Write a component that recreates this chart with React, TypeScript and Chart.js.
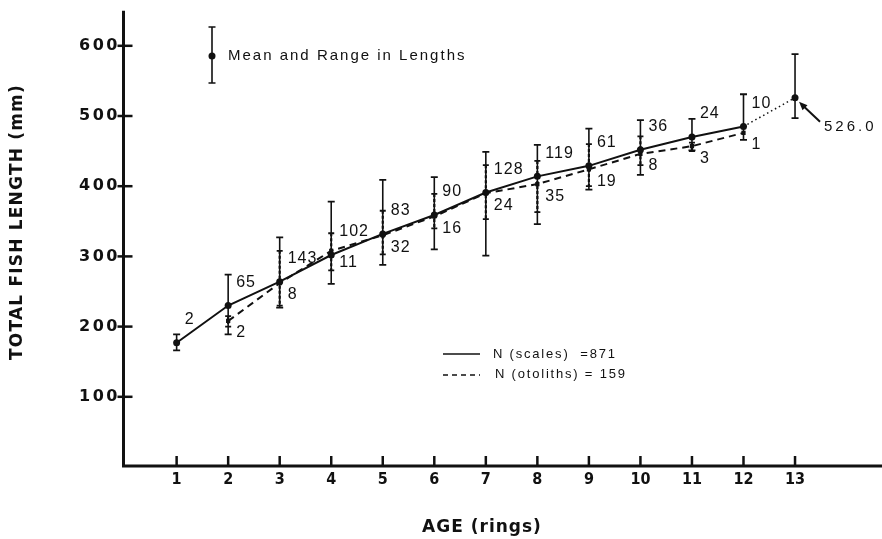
import React, { useEffect, useRef } from "react";
import { Chart, registerables } from "chart.js";

Chart.register(...registerables);

// ---- data ----
const scalesAges = [1, 2, 3, 4, 5, 6, 7, 8, 9, 10, 11, 12];
const scalesMean = [177, 230, 264, 302, 332, 359, 391, 414, 429, 452, 470, 485];
const scalesMin = [166, 189, 227, 261, 288, 310, 301, 346, 395, 416, 451, 466];
const scalesMax = [189, 274, 327, 378, 409, 413, 449, 459, 482, 494, 496, 531];
const scalesN = [2, 65, 143, 102, 83, 90, 128, 119, 61, 36, 24, 10];

const otoAges = [2, 3, 4, 5, 6, 7, 8, 9, 10, 11, 12];
const otoMean = [208, 262, 308, 330, 357, 390, 403, 424, 446, 457, 476];
const otoMin = [200, 230, 280, 303, 340, 353, 363, 400, 430, 450, 476];
const otoMax = [215, 308, 333, 365, 389, 430, 436, 460, 471, 462, 476];
const otoN = [2, 8, 11, 32, 16, 24, 35, 19, 8, 3, 1];

const extraAge = 13;
const extraMean = 526.0;
const extraMin = 497;
const extraMax = 588;
const extraLabel = "526.0";

const xTicks = [1, 2, 3, 4, 5, 6, 7, 8, 9, 10, 11, 12, 13];
const yTicks = [100, 200, 300, 400, 500, 600];

const xTitle = "AGE (rings)";
const yTitle = "TOTAL FISH LENGTH (mm)";
const keyText = "Mean and Range in Lengths";
const scalesLegend = "N (scales)  =871";
const otoLegend = "N (otoliths) = 159";

const INK = "#111111";
const AXIS_FONT = 'bold 16px "DejaVu Sans", sans-serif';
const XTICK_FONT = 'bold 16px "DejaVu Sans Condensed", "DejaVu Sans", sans-serif';
const TEXT_FONT = '"Liberation Sans", Arial, sans-serif';

function setSpacing(ctx: any, s: number) {
  try {
    ctx.letterSpacing = s + "px";
  } catch (e) {}
}

function drawBar(ctx: CanvasRenderingContext2D, x: number, yTop: number, yBot: number, cap: number, dashed: boolean, lw: number) {
  ctx.save();
  ctx.strokeStyle = INK;
  ctx.lineWidth = lw;
  if (dashed) ctx.setLineDash([3, 2]);
  ctx.beginPath();
  ctx.moveTo(x, yTop);
  ctx.lineTo(x, yBot);
  ctx.stroke();
  ctx.setLineDash([]);
  ctx.lineWidth = 1.8;
  ctx.beginPath();
  ctx.moveTo(x - cap, yTop);
  ctx.lineTo(x + cap, yTop);
  ctx.moveTo(x - cap, yBot);
  ctx.lineTo(x + cap, yBot);
  ctx.stroke();
  ctx.restore();
}

const fishPlugin = {
  id: "fishPlugin",
  beforeDatasetsDraw(chart: any) {
    const ctx: CanvasRenderingContext2D = chart.ctx;
    const xs = chart.scales.x;
    const ys = chart.scales.y;
    scalesAges.forEach((a, i) => {
      drawBar(ctx, xs.getPixelForValue(a), ys.getPixelForValue(scalesMax[i]), ys.getPixelForValue(scalesMin[i]), 3.5, false, 1.6);
    });
    otoAges.forEach((a, i) => {
      if (otoMax[i] === otoMin[i]) return;
      drawBar(ctx, xs.getPixelForValue(a), ys.getPixelForValue(otoMax[i]), ys.getPixelForValue(otoMin[i]), 3, true, 2.2);
    });
    drawBar(ctx, xs.getPixelForValue(extraAge), ys.getPixelForValue(extraMax), ys.getPixelForValue(extraMin), 3.5, false, 1.6);
  },
  afterDraw(chart: any) {
    const ctx: CanvasRenderingContext2D = chart.ctx;
    const xs = chart.scales.x;
    const ys = chart.scales.y;
    const area = chart.chartArea;
    const axisX = area.left + 1.5;
    const axisY = area.bottom - 1;

    ctx.save();
    ctx.strokeStyle = INK;
    ctx.fillStyle = INK;

    // axes
    ctx.lineWidth = 3;
    ctx.beginPath();
    ctx.moveTo(axisX, area.top);
    ctx.lineTo(axisX, axisY);
    ctx.lineTo(chart.width, axisY);
    ctx.stroke();

    // y ticks
    ctx.lineWidth = 2.5;
    ctx.font = AXIS_FONT;
    ctx.textAlign = "right";
    ctx.textBaseline = "middle";
    setSpacing(ctx, 2.5);
    yTicks.forEach((v) => {
      const y = ys.getPixelForValue(v);
      ctx.beginPath();
      ctx.moveTo(axisX - 6, y);
      ctx.lineTo(axisX + 9, y);
      ctx.stroke();
      ctx.fillText(String(v), axisX - 6 + 2.5, y);
    });

    // x ticks
    ctx.font = XTICK_FONT;
    ctx.textAlign = "center";
    setSpacing(ctx, 0);
    xTicks.forEach((v) => {
      const x = xs.getPixelForValue(v);
      ctx.beginPath();
      ctx.moveTo(x, axisY);
      ctx.lineTo(x, axisY - 10);
      ctx.stroke();
      ctx.fillText(String(v), x, 480);
    });

    // x title
    ctx.font = 'bold 17px "DejaVu Sans", sans-serif';
    setSpacing(ctx, 1);
    ctx.fillText(xTitle, 482, 528);

    // y title
    ctx.save();
    ctx.translate(18, 222);
    ctx.rotate(-Math.PI / 2);
    ctx.font = 'bold 17px "DejaVu Sans", sans-serif';
    setSpacing(ctx, 1.2);
    ctx.fillText(yTitle, 0, 0);
    ctx.restore();

    // count labels
    ctx.font = "16px " + TEXT_FONT;
    ctx.textAlign = "left";
    ctx.textBaseline = "middle";
    setSpacing(ctx, 1);
    scalesAges.forEach((a, i) => {
      ctx.fillText(String(scalesN[i]), xs.getPixelForValue(a) + 8, ys.getPixelForValue(scalesMean[i]) - 23);
    });
    otoAges.forEach((a, i) => {
      ctx.fillText(String(otoN[i]), xs.getPixelForValue(a) + 8, ys.getPixelForValue(otoMean[i]) + 12);
    });

    // 526.0 annotation with arrow
    const px = xs.getPixelForValue(extraAge);
    const py = ys.getPixelForValue(extraMean);
    ctx.lineWidth = 2;
    ctx.beginPath();
    ctx.moveTo(px + 25, py + 24);
    ctx.lineTo(px + 7, py + 7);
    ctx.stroke();
    ctx.beginPath();
    ctx.moveTo(px + 4, py + 4);
    ctx.lineTo(px + 12.5, py + 7.5);
    ctx.lineTo(px + 7.5, py + 12.5);
    ctx.closePath();
    ctx.fill();
    ctx.font = "15px " + TEXT_FONT;
    setSpacing(ctx, 3);
    ctx.fillText(extraLabel, px + 29, py + 29);

    // key: mean and range symbol
    const kx = 212;
    ctx.lineWidth = 1.6;
    ctx.beginPath();
    ctx.moveTo(kx, 27);
    ctx.lineTo(kx, 83);
    ctx.moveTo(kx - 3.5, 27);
    ctx.lineTo(kx + 3.5, 27);
    ctx.moveTo(kx - 3.5, 83);
    ctx.lineTo(kx + 3.5, 83);
    ctx.stroke();
    ctx.beginPath();
    ctx.arc(kx, 56, 3.5, 0, Math.PI * 2);
    ctx.fill();
    ctx.font = "15px " + TEXT_FONT;
    setSpacing(ctx, 2);
    ctx.fillText(keyText, 228, 56);

    // legend lines
    ctx.lineWidth = 1.5;
    ctx.beginPath();
    ctx.moveTo(443, 354);
    ctx.lineTo(480, 354);
    ctx.stroke();
    ctx.setLineDash([5, 4]);
    ctx.beginPath();
    ctx.moveTo(443, 375);
    ctx.lineTo(480, 375);
    ctx.stroke();
    ctx.setLineDash([]);
    ctx.font = "13px " + TEXT_FONT;
    setSpacing(ctx, 1.8);
    ctx.fillText(scalesLegend, 493, 354);
    ctx.fillText(otoLegend, 495, 374);
    setSpacing(ctx, 0);
    ctx.restore();
  },
};

export default function App() {
  const ref = useRef<HTMLCanvasElement | null>(null);
  useEffect(() => {
    if (!ref.current) return;
    const chart = new Chart(ref.current, {
      type: "line",
      data: {
        datasets: [
          {
            label: "scales",
            data: scalesAges.map((a, i) => ({ x: a, y: scalesMean[i] })),
            borderColor: INK,
            borderWidth: 2,
            pointRadius: 3.5,
            pointBackgroundColor: INK,
            pointBorderWidth: 0,
            tension: 0,
          },
          {
            label: "extension",
            data: [
              { x: scalesAges[scalesAges.length - 1], y: scalesMean[scalesMean.length - 1] },
              { x: extraAge, y: extraMean },
            ],
            borderColor: INK,
            borderWidth: 1.5,
            borderDash: [1.5, 3],
            pointRadius: [0, 3.5],
            pointBackgroundColor: INK,
            pointBorderWidth: 0,
            tension: 0,
          },
          {
            label: "otoliths",
            data: otoAges.map((a, i) => ({ x: a, y: otoMean[i] })),
            borderColor: INK,
            borderWidth: 2,
            borderDash: [7, 5],
            pointStyle: "rect",
            pointRadius: 3,
            pointBackgroundColor: INK,
            pointBorderWidth: 0,
            tension: 0,
          },
        ],
      },
      options: {
        responsive: false,
        animation: false,
        events: [],
        layout: { padding: { left: 122, right: 0, top: 10.7, bottom: 72 } },
        scales: {
          x: { type: "linear", min: -0.06, max: 14.61, display: false },
          y: { type: "linear", min: 0, max: 650, display: false },
        },
        plugins: { legend: { display: false }, tooltip: { enabled: false } },
      },
      plugins: [fishPlugin],
    } as any);
    return () => chart.destroy();
  }, []);
  return (
    <div style={{ position: "fixed", left: 0, top: 0, width: 882, height: 539, background: "#fff" }}>
      <canvas ref={ref} width={882} height={539} style={{ display: "block" }} />
    </div>
  );
}
